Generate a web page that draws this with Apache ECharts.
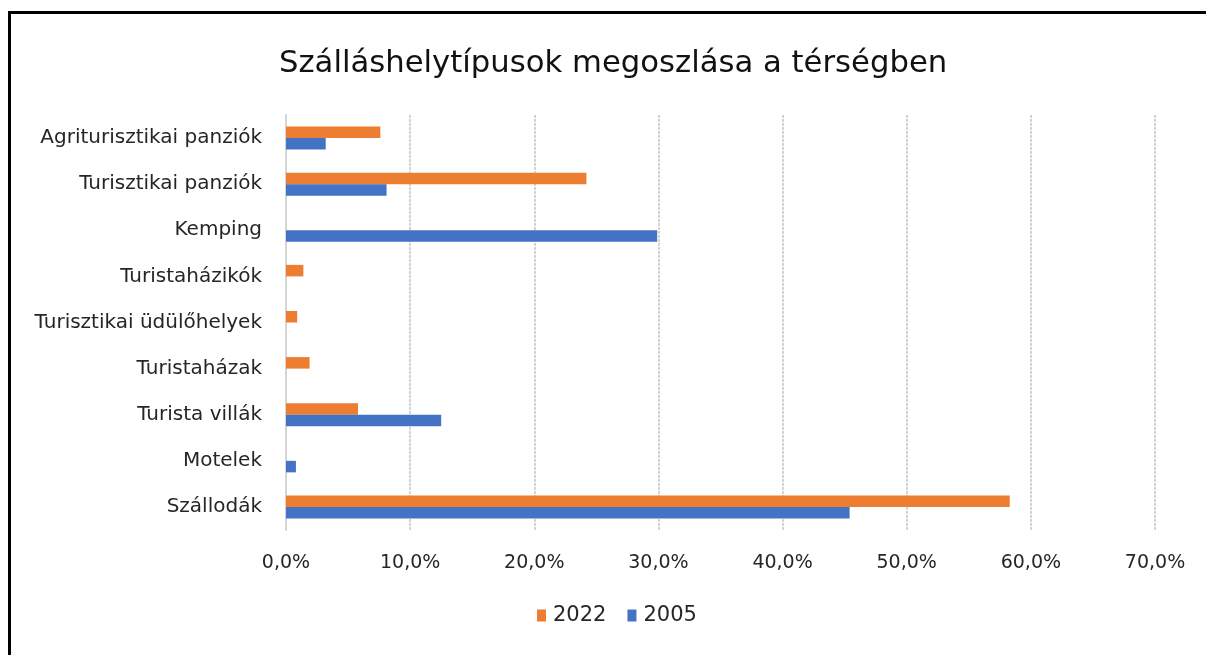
<!DOCTYPE html>
<html>
<head>
<meta charset="utf-8">
<script src="https://cdn.jsdelivr.net/npm/echarts@6/dist/echarts.min.js"></script>
<style>
html,body{margin:0;padding:0;background:#fff;}
#chart{width:1206px;height:655px;}
</style>
</head>
<body>
<div id="chart"></div>
<script>
const categories = ['Szállodák','Motelek','Turista villák','Turistaházak','Turisztikai üdülőhelyek','Turistaházikók','Kemping','Turisztikai panziók','Agriturisztikai panziók'];
const values2022 = [58.3, 0, 5.8, 1.9, 0.9, 1.4, 0, 24.2, 7.6];
const values2005 = [45.4, 0.8, 12.5, 0, 0, 0, 29.9, 8.1, 3.2];
const xTicks = [0, 10, 20, 30, 40, 50, 60, 70];
const titleText = 'Szálláshelytípusok megoszlása a térségben';
const FONT = '"DejaVu Sans", sans-serif';

const chart = echarts.init(document.getElementById('chart'));
chart.setOption({
  animation: false,
  backgroundColor: '#fff',
  title: {
    text: titleText,
    left: 274,
    top: 44,
    textStyle: {fontFamily: FONT, fontSize: 30.7, fontWeight: 'normal', color: '#111'}
  },
  legend: {
    data: ['2022', '2005'],
    bottom: 24,
    left: 532,
    itemWidth: 9,
    itemHeight: 12,
    itemGap: 21,
    icon: 'rect',
    textStyle: {fontFamily: FONT, fontSize: 21, color: '#262626', padding: [0, 0, 0, 2]}
  },
  grid: {left: 286, right: 51, top: 115, bottom: 125, containLabel: false},
  xAxis: {
    type: 'value',
    min: xTicks[0],
    max: xTicks[xTicks.length - 1],
    interval: 10,
    axisLine: {show: false},
    axisTick: {show: false},
    axisLabel: {
      fontFamily: FONT, fontSize: 19, color: '#262626', margin: 24,
      formatter: v => v.toFixed(1).replace('.', ',') + '%'
    },
    splitLine: {show: true, lineStyle: {color: '#d4d4d4', width: 2, type: [3, 1]}}
  },
  yAxis: {
    type: 'category',
    data: categories,
    axisLine: {show: true, lineStyle: {color: '#d4d4d4', width: 2, type: [3, 1]}},
    axisTick: {show: false},
    axisLabel: {fontFamily: FONT, fontSize: 20, color: '#262626', margin: 24}
  },
  series: [
    {name: '2022', type: 'bar', data: values2022, itemStyle: {color: '#ED7D31'}, barGap: '0%', barCategoryGap: '50%'},
    {name: '2005', type: 'bar', data: values2005, itemStyle: {color: '#4472C4'}, barGap: '0%', barCategoryGap: '50%'}
  ],
  graphic: [
    {type: 'polyline', shape: {points: [[9.5, 655], [9.5, 12.5], [1206, 12.5]]}, style: {stroke: '#000', lineWidth: 3, fill: null}}
  ]
});
</script>
</body>
</html>
